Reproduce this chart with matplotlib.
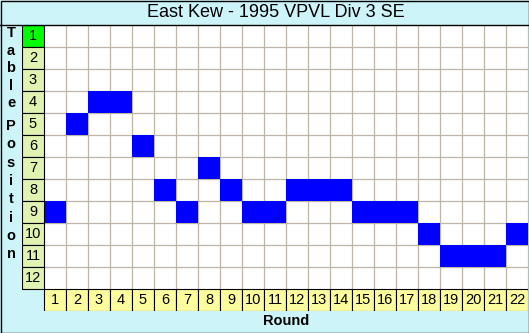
import matplotlib.pyplot as plt
from matplotlib.patches import Rectangle
from matplotlib.lines import Line2D

plt.rcParams['font.family'] = ['Liberation Sans', 'DejaVu Sans']

title = "East Kew - 1995 VPVL Div 3 SE"
rounds = list(range(1, 23))
positions = [9, 5, 4, 4, 6, 8, 9, 7, 8, 9, 9, 8, 8, 8, 9, 9, 9, 10, 11, 11, 11, 10]
table_rows = list(range(1, 13))

W, H = 529, 333
bg = "#cdf5f9"
fig = plt.figure(figsize=(W / 100, H / 100), dpi=100, facecolor=bg)

# grid axes: label column at x=0, label row at y=13
ax = fig.add_axes([22 / W, (H - 310.5) / H, 506 / W, 286 / H])
ax.set_xlim(-0.5, len(rounds) + 0.5)
ax.set_ylim(len(table_rows) + 1.5, 0.5)
ax.axis('off')

n_r, n_p = len(rounds), len(table_rows)
ax.add_patch(Rectangle((0.5, 0.5), n_r, n_p, facecolor="white", edgecolor="none", zorder=0))
grid_c = "#bdb5a6"
ax.vlines([r + 0.5 for r in rounds], 0.5, n_p + 0.5, color=grid_c, lw=0.9, zorder=1)
ax.hlines([p + 0.5 for p in table_rows[:-1]], 0.5, n_r + 0.5, color=grid_c, lw=0.9, zorder=1)

# team positions
ax.bar(rounds, 1, bottom=[p - 0.5 for p in positions], width=1, color="#0000ff",
       edgecolor="none", zorder=2)

# row labels
row_colors = ["#00ff00" if p == 1 else "#e0f3b0" for p in table_rows]
ax.bar([0] * n_p, 1, bottom=[p - 0.5 for p in table_rows], width=1, color=row_colors,
       edgecolor="black", lw=0.8, zorder=3)
for p in table_rows:
    ax.text(0, p + 0.03, str(p), ha='center', va='center', fontsize=10.5, zorder=4)

# column labels
ax.bar(rounds, 1, bottom=n_p + 0.5, width=1, color="#fdfd9e", edgecolor="black",
       lw=0.8, zorder=3)
for r in rounds:
    ax.text(r, n_p + 1.03, str(r), ha='center', va='center', fontsize=10.5, zorder=4)

# title bar and frame
fig.add_artist(Line2D([0, 1], [1 - 24.5 / H, 1 - 24.5 / H], color="black", lw=1.0))
fig.add_artist(Rectangle((0.5 / W, 0.5 / H), (W - 1) / W, (H - 1) / H, fill=False,
                         edgecolor="black", lw=1.0))
fig.text(276 / W, 1 - 12.5 / H, title, ha='center', va='center', fontsize=13)

# axis titles
letters = list("Table") + list("Position")
ys = [33, 51, 68, 86, 103] + [126 + 18.3 * i for i in range(8)]
for ch, y in zip(letters, ys):
    fig.text(11 / W, 1 - y / H, ch, ha='center', va='center', fontsize=10.5,
             fontweight='bold')
fig.text(286 / W, 1 - 321 / H, "Round", ha='center', va='center', fontsize=10.5,
         fontweight='bold')

fig.savefig("out.png", dpi=100, facecolor=bg)
